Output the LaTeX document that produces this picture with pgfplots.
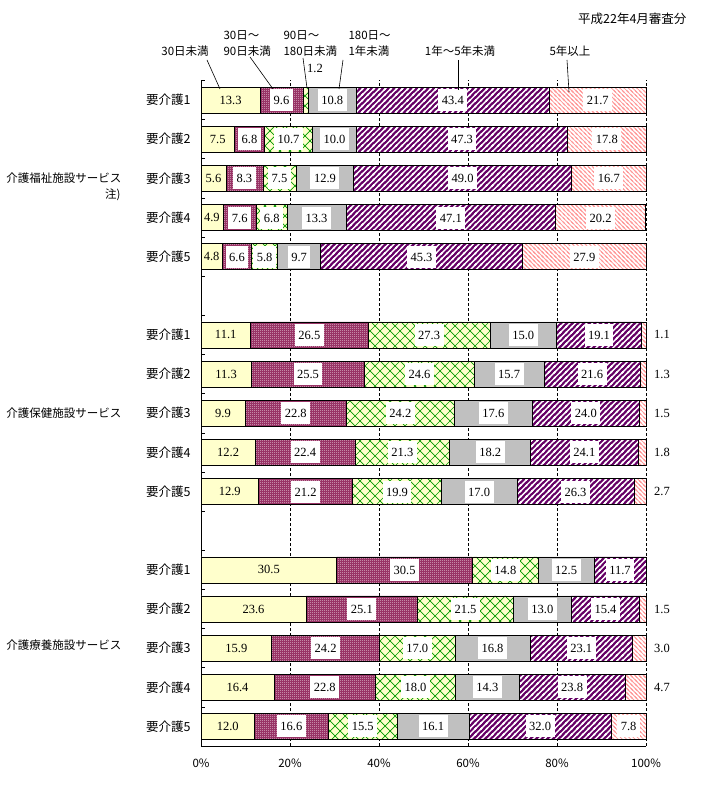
\documentclass[border=0pt]{standalone}
\usepackage{fontspec}
\setmainfont{Noto Sans CJK JP}
\newfontfamily\numfont{Liberation Serif}
\usepackage{pgfplots}
\pgfplotsset{compat=1.18}
\usetikzlibrary{patterns}

\definecolor{cyel}{HTML}{FFFFCC}
\definecolor{cmag}{HTML}{993366}
\definecolor{cgrn}{HTML}{009900}
\definecolor{cgry}{HTML}{C0C0C0}
\definecolor{cpur}{HTML}{660066}
\definecolor{cpnk}{HTML}{FF9999}

% small white dots on the magenta bars
\pgfdeclarepatternformonly{finedots}{\pgfpointorigin}{\pgfpoint{2pt}{2pt}}{\pgfpoint{2pt}{2pt}}{
  \pgfpathrectangle{\pgfpointorigin}{\pgfpoint{1pt}{1pt}}
  \pgfusepath{fill}
}
% diagonal crosshatch (green)
\pgfdeclarepatternformonly{diamonds}{\pgfpoint{-1pt}{-1pt}}{\pgfpoint{11pt}{11pt}}{\pgfpoint{10pt}{10pt}}{
  \pgfsetlinewidth{0.7pt}
  \pgfpathmoveto{\pgfpointorigin}\pgfpathlineto{\pgfpoint{10pt}{10pt}}
  \pgfpathmoveto{\pgfpoint{0pt}{10pt}}\pgfpathlineto{\pgfpoint{10pt}{0pt}}
  \pgfusepath{stroke}
}
% thick north east lines (white gaps on purple)
\pgfdeclarepatternformonly{nethick}{\pgfpoint{-1pt}{-1pt}}{\pgfpoint{6.66pt}{6.66pt}}{\pgfpoint{5.66pt}{5.66pt}}{
  \pgfsetlinewidth{1.4pt}
  \pgfpathmoveto{\pgfpoint{-1pt}{-1pt}}\pgfpathlineto{\pgfpoint{6.66pt}{6.66pt}}
  \pgfpathmoveto{\pgfpoint{-1pt}{4.66pt}}\pgfpathlineto{\pgfpoint{1pt}{6.66pt}}
  \pgfpathmoveto{\pgfpoint{4.66pt}{-1pt}}\pgfpathlineto{\pgfpoint{6.66pt}{1pt}}
  \pgfusepath{stroke}
}
% thin north west lines
\pgfdeclarepatternformonly{nwthin}{\pgfpoint{-1pt}{-1pt}}{\pgfpoint{5.24pt}{5.24pt}}{\pgfpoint{4.24pt}{4.24pt}}{
  \pgfsetlinewidth{0.8pt}
  \pgfpathmoveto{\pgfpoint{-1pt}{5.24pt}}\pgfpathlineto{\pgfpoint{5.24pt}{-1pt}}
  \pgfpathmoveto{\pgfpoint{-1pt}{1pt}}\pgfpathlineto{\pgfpoint{1pt}{-1pt}}
  \pgfpathmoveto{\pgfpoint{3.24pt}{5.24pt}}\pgfpathlineto{\pgfpoint{5.24pt}{3.24pt}}
  \pgfusepath{stroke}
}

\def\hidemark{-}
\newcommand\boxlab[1]{\edef\tmp{#1}\ifx\tmp\hidemark\else{\setlength\fboxsep{3.5pt}\colorbox{white}{\rule[-3pt]{0pt}{15pt}\tmp}}\fi}
\newcommand\plainlab[1]{\edef\tmp{#1}\ifx\tmp\hidemark\else\tmp\fi}
\newcommand\nf{\numfont\fontsize{12.5}{14}\selectfont}

\begin{document}
\begin{tikzpicture}
\path[use as bounding box] (0pt,0pt) rectangle (725pt,-791pt);
\begin{axis}[
  at={(201pt,-746pt)}, anchor=south west,
  scale only axis, width=445pt, height=665.5pt,
  xbar stacked, bar width=26pt,
  xmin=0, xmax=100, ymin=-16.5, ymax=0.5,
  axis lines*=left, axis line style={-, black, line width=0.8pt},
  xtick={0,20,40,60,80,100},
  xticklabels={0\%,20\%,40\%,60\%,80\%,100\%},
  xticklabel style={yshift=-9pt, font=\fontsize{11.5}{12}\selectfont},
  x tick style={draw=none},
  xmajorgrids,
  major grid style={black, line width=0.6pt, dash pattern=on 3pt off 2pt},
  ytick={-16.5,-15.5,...,0.5},
  yticklabels={},
  y tick style={black, line width=0.6pt},
  tick align=inside, major tick length=4pt,
  extra y ticks={0,-1,-2,-3,-4,-6,-7,-8,-9,-10,-12,-13,-14,-15,-16},
  extra y tick labels={要介護1,要介護2,要介護3,要介護4,要介護5,要介護1,要介護2,要介護3,要介護4,要介護5,要介護1,要介護2,要介護3,要介護4,要介護5},
  extra y tick style={major tick length=0pt, yticklabel style={xshift=-7pt, font=\fontsize{12.5}{14}\selectfont}},
  point meta=explicit symbolic,
  nodes near coords={\boxlab{\pgfplotspointmeta}},
  every node near coord/.append style={inner sep=0pt, font=\nf},
  clip=false,
]
% 30日未満
\addplot[draw=black, line width=0.6pt, fill=cyel, nodes near coords={\plainlab{\pgfplotspointmeta}}] coordinates {
 (13.3,0) [13.3] (7.5,-1) [7.5] (5.6,-2) [5.6] (4.9,-3) [4.9] (4.8,-4) [4.8]
 (11.1,-6) [11.1] (11.3,-7) [11.3] (9.9,-8) [9.9] (12.2,-9) [12.2] (12.9,-10) [12.9]
 (30.5,-12) [30.5] (23.6,-13) [23.6] (15.9,-14) [15.9] (16.4,-15) [16.4] (12.0,-16) [12.0]
};
% 30日～90日未満
\addplot[draw=black, line width=0.6pt, preaction={fill=cmag}, pattern=finedots, pattern color=white] coordinates {
 (9.6,0) [9.6] (6.8,-1) [6.8] (8.3,-2) [8.3] (7.6,-3) [7.6] (6.6,-4) [6.6]
 (26.5,-6) [26.5] (25.5,-7) [25.5] (22.8,-8) [22.8] (22.4,-9) [22.4] (21.2,-10) [21.2]
 (30.5,-12) [30.5] (25.1,-13) [25.1] (24.2,-14) [24.2] (22.8,-15) [22.8] (16.6,-16) [16.6]
};
% 90日～180日未満
\addplot[draw=black, line width=0.6pt, preaction={fill=cyel}, pattern=diamonds, pattern color=cgrn] coordinates {
 (1.2,0) [-] (10.7,-1) [10.7] (7.5,-2) [7.5] (6.8,-3) [6.8] (5.8,-4) [5.8]
 (27.3,-6) [27.3] (24.6,-7) [24.6] (24.2,-8) [24.2] (21.3,-9) [21.3] (19.9,-10) [19.9]
 (14.8,-12) [14.8] (21.5,-13) [21.5] (17.0,-14) [17.0] (18.0,-15) [18.0] (15.5,-16) [15.5]
};
% 180日～1年未満
\addplot[draw=black, line width=0.6pt, fill=cgry] coordinates {
 (10.8,0) [10.8] (10.0,-1) [10.0] (12.9,-2) [12.9] (13.3,-3) [13.3] (9.7,-4) [9.7]
 (15.0,-6) [15.0] (15.7,-7) [15.7] (17.6,-8) [17.6] (18.2,-9) [18.2] (17.0,-10) [17.0]
 (12.5,-12) [12.5] (13.0,-13) [13.0] (16.8,-14) [16.8] (14.3,-15) [14.3] (16.1,-16) [16.1]
};
% 1年～5年未満
\addplot[draw=black, line width=0.6pt, preaction={fill=cpur}, pattern=nethick, pattern color=white] coordinates {
 (43.4,0) [43.4] (47.3,-1) [47.3] (49.0,-2) [49.0] (47.1,-3) [47.1] (45.3,-4) [45.3]
 (19.1,-6) [19.1] (21.6,-7) [21.6] (24.0,-8) [24.0] (24.1,-9) [24.1] (26.3,-10) [26.3]
 (11.7,-12) [11.7] (15.4,-13) [15.4] (23.1,-14) [23.1] (23.8,-15) [23.8] (32.0,-16) [32.0]
};
% 5年以上
\addplot[draw=black, line width=0.6pt, preaction={fill=white}, pattern=nwthin, pattern color=cpnk] coordinates {
 (21.7,0) [21.7] (17.8,-1) [17.8] (16.7,-2) [16.7] (20.2,-3) [20.2] (27.9,-4) [27.9]
 (1.1,-6) [-] (1.3,-7) [-] (1.5,-8) [-] (1.8,-9) [-] (2.7,-10) [-]
 (0,-12) [-] (1.5,-13) [-] (3.0,-14) [-] (4.7,-15) [-] (7.8,-16) [7.8]
};
% small 5年以上 values written beside the bars
\node[anchor=west, inner sep=0pt, font=\nf, xshift=8pt] at (axis cs:100,-6) {1.1};
\node[anchor=west, inner sep=0pt, font=\nf, xshift=8pt] at (axis cs:100,-7) {1.3};
\node[anchor=west, inner sep=0pt, font=\nf, xshift=8pt] at (axis cs:100,-8) {1.5};
\node[anchor=west, inner sep=0pt, font=\nf, xshift=8pt] at (axis cs:100,-9) {1.8};
\node[anchor=west, inner sep=0pt, font=\nf, xshift=8pt] at (axis cs:100,-10) {2.7};
\node[anchor=west, inner sep=0pt, font=\nf, xshift=8pt] at (axis cs:100,-13) {1.5};
\node[anchor=west, inner sep=0pt, font=\nf, xshift=8pt] at (axis cs:100,-14) {3.0};
\node[anchor=west, inner sep=0pt, font=\nf, xshift=8pt] at (axis cs:100,-15) {4.7};
\end{axis}

\begin{scope}[x=1pt, y=-1pt]
\node[font=\fontsize{12.5}{14}\selectfont, anchor=east] at (690,19) {平成22年4月審査分};
\begin{scope}[font=\fontsize{11.5}{13}\selectfont]
\node[anchor=center] at (185,51) {30日未満};
\node[anchor=west] at (220,35) {30日～};
\node[anchor=west] at (220,51) {90日未満};
\node[anchor=west] at (280,35) {90日～};
\node[anchor=west] at (280,51) {180日未満};
\node[anchor=west] at (345,35) {180日～};
\node[anchor=west] at (345,51) {1年未満};
\node[anchor=center] at (460,51) {1年～5年未満};
\node[anchor=center] at (570,51) {5年以上};
\node[anchor=east] at (125,178) {介護福祉施設サービス};
\node[anchor=east] at (124,195) {注)};
\node[anchor=east] at (125,413) {介護保健施設サービス};
\node[anchor=east] at (125,645) {介護療養施設サービス};
\end{scope}
\node[font=\nf] at (315,68) {1.2};
\draw[black, line width=0.6pt] (207,60) -- (220,89);
\draw[black, line width=0.6pt] (250,57) -- (273,89);
\draw[black, line width=0.6pt] (303,58) -- (307,88);
\draw[black, line width=0.6pt] (343,60) -- (339,89);
\draw[black, line width=0.6pt] (458,60) -- (458,90);
\draw[black, line width=0.6pt] (567,60) -- (569,92);
\end{scope}
\end{tikzpicture}
\end{document}
